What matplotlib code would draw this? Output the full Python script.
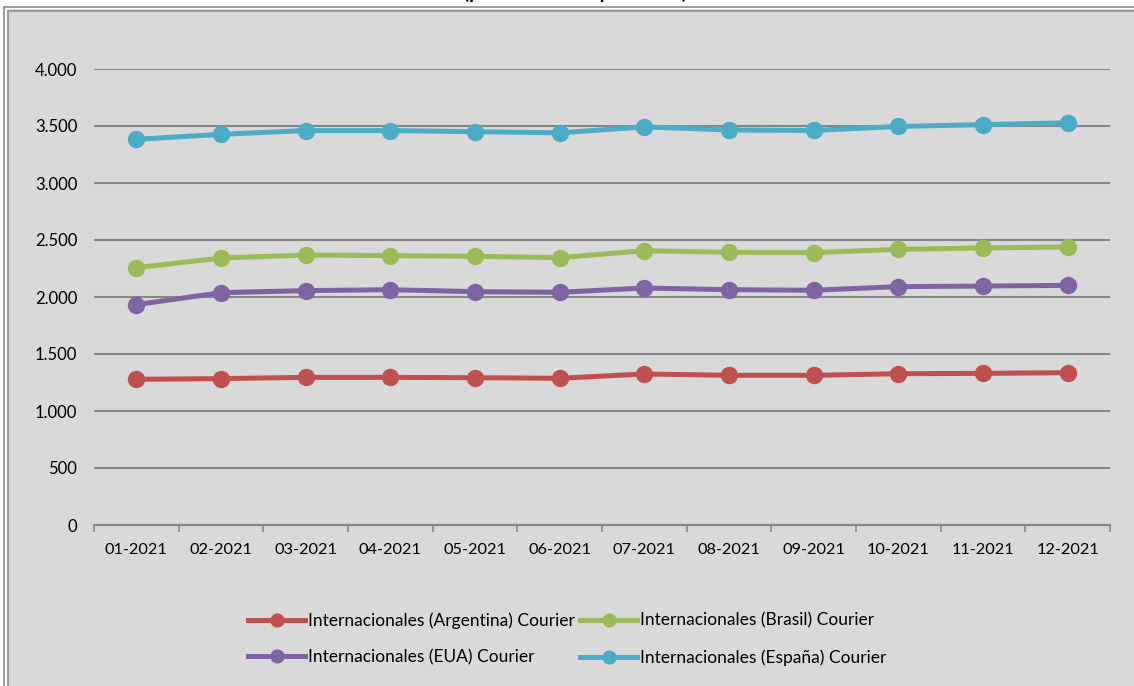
# Tarifas internacionales Courier por mes (2021)

import matplotlib.pyplot as plt
from matplotlib.lines import Line2D
from matplotlib.patches import Rectangle
from matplotlib.ticker import FuncFormatter, FixedLocator

plt.rcParams['font.family'] = ['Lato', 'DejaVu Sans']

meses = ["01-2021", "02-2021", "03-2021", "04-2021", "05-2021", "06-2021",
         "07-2021", "08-2021", "09-2021", "10-2021", "11-2021", "12-2021"]

argentina = [1278, 1284, 1295, 1295, 1292, 1287, 1325, 1313, 1313, 1327, 1330, 1336]
brasil = [2257, 2342, 2368, 2363, 2357, 2345, 2406, 2392, 2389, 2418, 2430, 2439]
eua = [1933, 2038, 2056, 2064, 2047, 2041, 2079, 2064, 2059, 2091, 2096, 2102]
espana = [3383, 3427, 3460, 3460, 3450, 3440, 3492, 3465, 3461, 3496, 3512, 3528]

nombres = ["Internacionales (Argentina) Courier", "Internacionales (EUA) Courier",
           "Internacionales (Brasil) Courier", "Internacionales (España) Courier"]
colores = ["#C0504D", "#8064A2", "#9BBB59", "#4BACC6"]
series = [argentina, eua, brasil, espana]

W, H = 1134, 686
fig = plt.figure(figsize=(W / 100, H / 100), dpi=100)
fig.patch.set_facecolor("white")

# fondo gris del grafico y doble borde
fig.add_artist(Rectangle((8 / W, 0), 1, 1 - 9 / H, transform=fig.transFigure,
                         facecolor="#d9d9d9", edgecolor="none", zorder=0))
for off in (3.5, 7.5):
    fig.add_artist(Line2D([off / W, off / W], [0, 1 - (off + 3) / H],
                          transform=fig.transFigure, color="#8c8c8c", lw=1.2))
    fig.add_artist(Line2D([off / W, 1], [1 - (off + 3) / H, 1 - (off + 3) / H],
                          transform=fig.transFigure, color="#8c8c8c", lw=1.2))

# titulo (cortado en la parte superior, como en la imagen original)
fig.text(548 / W, 1 + 1 / H, "Tarifa (pesos chilenos por envío)", ha="center",
         va="baseline", fontsize=14, fontweight="bold", color="black")

ax = fig.add_axes([94 / W, (H - 525) / H, 1016 / W, 456 / H])
ax.set_facecolor("none")

x = list(range(len(meses)))
for vals, nombre, color in zip(series, nombres, colores):
    ax.plot(x, vals, color=color, lw=3.6, marker="o", markersize=11.5,
            label=nombre, clip_on=False, zorder=3)

ax.set_xlim(-0.5, len(meses) - 0.5)
ax.set_ylim(0, 4000)
ax.set_yticks(range(0, 4001, 500))
ax.yaxis.set_major_formatter(FuncFormatter(lambda v, p: f"{v:,.0f}".replace(",", ".")))
ax.grid(axis="y", color="#868686", lw=1.5, zorder=1)
ax.set_axisbelow(True)

ax.set_xticks(x)
ax.set_xticklabels(meses)
ax.xaxis.set_minor_locator(FixedLocator([i - 0.5 for i in range(len(meses) + 1)]))
ax.tick_params(axis="x", which="major", length=0, pad=13, labelsize=11.8)
ax.tick_params(axis="x", which="minor", length=5, width=1.2, color="#868686")
ax.tick_params(axis="y", length=0, pad=12, labelsize=12)

for s in ["top", "right", "left"]:
    ax.spines[s].set_visible(False)
ax.spines["bottom"].set_color("#868686")
ax.spines["bottom"].set_linewidth(1.5)

fig.legend(loc="center", bbox_to_anchor=(0.5, 1 - 639 / H), ncol=2, frameon=False,
           fontsize=12.5, handlelength=3.3, handletextpad=0.15, columnspacing=0.3,
           labelspacing=1.2, markerscale=0.8)

plt.savefig("out.png", dpi=100)
